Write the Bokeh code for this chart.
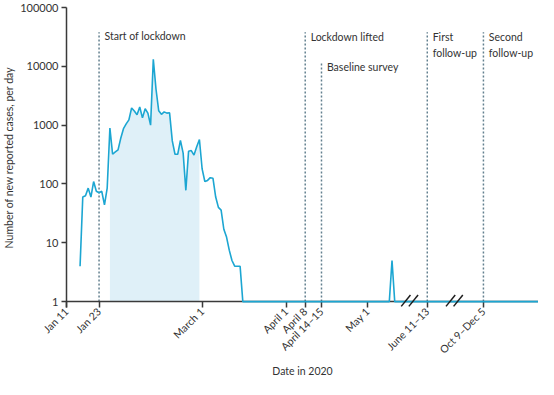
import math
from bokeh.plotting import figure
from bokeh.models import FixedTicker, Range1d, NumeralTickFormatter, Span
from bokeh.core.properties import value
from bokeh.embed import file_html
from bokeh.resources import INLINE

# day index counted from Jan 11 (0); axis is compressed/broken after May
days = [5, 6, 7, 8, 9, 10, 11, 12, 13, 14, 15, 16, 17, 18, 19, 20, 21, 22, 23, 24,
        25, 26, 27, 28, 29, 30, 31, 32, 33, 34, 35, 36, 37, 38, 39, 40, 41, 42, 43, 44,
        45, 46, 47, 48, 49, 50, 51, 52, 53, 54, 55, 56, 57, 58, 59, 60, 61, 62, 63, 64,
        65, 119, 120, 121, 174]
cases = [4, 60, 63, 85, 60, 110, 75, 71, 75, 44, 85, 890, 320, 350, 380, 600, 870, 1050, 1230, 1960,
         1740, 1500, 2030, 1330, 1900, 1600, 1000, 13200, 4080, 1750, 1530, 1680, 1600, 1620, 540, 320,
         320, 550, 335, 78, 360, 370, 310, 430, 570, 180, 110, 115, 128, 125, 60, 40, 36, 17,
         12.5, 7.5, 5, 4, 4, 4, 1, 1, 5, 1, 1]

shade_start, shade_end = 16, 49

xtick_pos = [0, 12, 50, 81, 88, 94, 111, 133, 153.7]
xtick_labels = ["Jan 11", "Jan 23", "March 1", "April 1", "April 8", "April 14\u201315",
                "May 1", "June 11\u201313", "Oct 9\u2013Dec 5"]
ytick_vals = [1, 10, 100, 1000, 10000, 100000]

event_x = [12, 88, 94, 133, 153.7]
event_top = [38000, 38000, 12000, 38000, 38000]

note_x = [14.0, 90.0, 96.0, 135.0, 135.0, 155.7, 155.7]
note_y = [33000, 32000, 9800, 32000, 17000, 32000, 17000]
note_text = ["Start of lockdown", "Lockdown lifted", "Baseline survey",
             "First", "follow-up", "Second", "follow-up"]

axis_breaks = [126.5, 143]

LINE = "#1ca6d2"
FILL = "#dff0f8"
DASH = "#63808f"
AX = "#3a3a3a"
FONT = "Lato"

p = figure(width=538, height=379, y_axis_type="log",
           x_range=Range1d(0, 174), y_range=Range1d(10 ** -0.1, 100000),
           output_backend="svg", toolbar_location=None,
           min_border_left=50, min_border_top=7, min_border_right=0, min_border_bottom=0)
p.outline_line_color = None
p.xgrid.visible = False
p.ygrid.visible = False
p.background_fill_color = "white"

sx = [d for d in days if shade_start <= d <= shade_end]
sy = [c for d, c in zip(days, cases) if shade_start <= d <= shade_end]
p.varea(x=sx, y1=[1] * len(sx), y2=sy, fill_color=FILL)

p.segment(x0=event_x, y0=[1] * len(event_x), x1=event_x, y1=event_top,
          line_color=DASH, line_width=1.5, line_dash="2 2")

# x-axis baseline at the value 1
p.add_layout(Span(location=1, dimension="width", line_color=AX, line_width=1.5))

p.line(days, cases, line_color=LINE, line_width=1.6, level="overlay")

# axis-break slashes
bx0, bx1, by0, by1 = [], [], [], []
for b in axis_breaks:
    for off in (-1.4, 1.4):
        bx0.append(b + off - 1.7)
        bx1.append(b + off + 1.7)
        by0.append(0.83)
        by1.append(1.3)
p.segment(x0=bx0, y0=by0, x1=bx1, y1=by1, line_color="#1e1e1e", line_width=1.5, level="overlay")

p.text(x=note_x, y=note_y, text=note_text, text_font=value(FONT), text_font_size="10.5px",
       text_baseline="middle", text_align="left", text_color="#333333")

for ax in (p.xaxis[0], p.yaxis[0]):
    ax.axis_line_color = AX
    ax.axis_line_width = 1.5
    ax.major_tick_line_color = AX
    ax.major_tick_line_width = 1.5
    ax.major_tick_out = 5
    ax.major_tick_in = 0
    ax.minor_tick_line_color = None
    ax.major_label_text_font = FONT
    ax.major_label_text_font_size = "11px"
    ax.major_label_text_color = "#333333"
    ax.axis_label_text_font = FONT
    ax.axis_label_text_font_size = "10.5px"
    ax.axis_label_text_font_style = "normal"
    ax.axis_label_text_color = "#333333"

p.yaxis.ticker = FixedTicker(ticks=ytick_vals)
p.yaxis.formatter = NumeralTickFormatter(format="0")
p.yaxis.axis_label = "Number of new reported cases, per day"
p.yaxis.axis_label_standoff = 2
p.yaxis.major_label_standoff = 3

p.xaxis.axis_line_color = None
p.xaxis.major_tick_in = 6
p.xaxis.major_tick_out = 0
p.xaxis.ticker = FixedTicker(ticks=xtick_pos)
p.xaxis.major_label_overrides = {float(k): v for k, v in zip(xtick_pos, xtick_labels)}
p.xaxis.major_label_orientation = math.pi / 4
p.xaxis.major_label_text_font_size = "10.5px"
p.xaxis.axis_label = "Date in 2020"
p.xaxis.axis_label_standoff = 2
p.xaxis.major_label_standoff = 2

open("out.html", "w").write(file_html(p, INLINE))
